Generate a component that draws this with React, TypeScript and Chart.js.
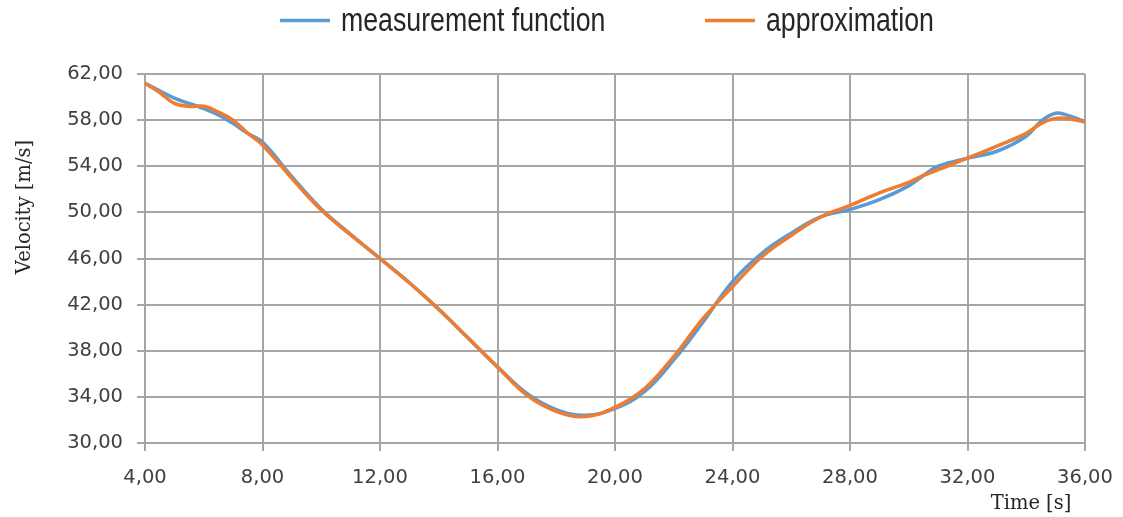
import React, { useEffect, useRef } from "react";
import { Chart, registerables } from "chart.js";

Chart.register(...registerables);

const timeValues: number[] = [4, 4.5, 5, 5.5, 6, 6.5, 7, 7.5, 8, 9, 10, 11, 12, 13, 14, 15, 16, 17, 18, 19, 20, 21, 22, 23, 24, 25, 26, 27, 28, 29, 30, 30.5, 31, 32, 33, 34, 34.5, 35, 35.5, 36];

const measurement: number[] = [61.2, 60.55, 59.9, 59.45, 59.0, 58.45, 57.7, 56.85, 56.1, 53.1, 50.3, 48.1, 46.0, 43.9, 41.6, 39.1, 36.6, 34.3, 32.9, 32.4, 33.0, 34.45, 37.2, 40.5, 44.0, 46.45, 48.2, 49.6, 50.25, 51.1, 52.3, 53.2, 54.0, 54.7, 55.3, 56.6, 57.9, 58.6, 58.35, 57.85];

const approximation: number[] = [61.2, 60.4, 59.45, 59.2, 59.2, 58.7, 58.0, 56.85, 55.85, 52.95, 50.2, 48.05, 46.0, 43.9, 41.6, 39.1, 36.6, 34.15, 32.75, 32.3, 33.1, 34.7, 37.5, 40.8, 43.55, 46.15, 48.0, 49.6, 50.6, 51.7, 52.6, 53.2, 53.7, 54.7, 55.75, 56.85, 57.7, 58.15, 58.1, 57.85];

const seriesNames: string[] = ["measurement function", "approximation"];
const seriesColors: string[] = ["#5B9BD5", "#ED7D31"];
const xTitle = "Time [s]";
const yTitle = "Velocity [m/s]";

const fmt = (v: number | string) => Number(v).toFixed(2).replace(".", ",");

const decorPlugin = {
  id: "decor",
  afterDraw(chart: any) {
    const ctx = chart.ctx as CanvasRenderingContext2D;
    const area = chart.chartArea;
    ctx.save();
    const legendItems = [
      { x: 280, text: seriesNames[0], color: seriesColors[0] },
      { x: 705, text: seriesNames[1], color: seriesColors[1] },
    ];
    legendItems.forEach((it) => {
      ctx.strokeStyle = it.color;
      ctx.lineWidth = 3.5;
      ctx.beginPath();
      ctx.moveTo(it.x, 20.5);
      ctx.lineTo(it.x + 50, 20.5);
      ctx.stroke();
      ctx.save();
      ctx.translate(it.x + 61, 31);
      ctx.scale(0.786, 1);
      ctx.fillStyle = "#262626";
      ctx.font = "34px 'Liberation Sans', Arial, sans-serif";
      ctx.textAlign = "left";
      ctx.textBaseline = "alphabetic";
      ctx.fillText(it.text, 0, 0);
      ctx.restore();
    });
    ctx.fillStyle = "#262626";
    ctx.font = "19.5px 'DejaVu Serif', serif";
    ctx.textAlign = "center";
    ctx.textBaseline = "middle";
    ctx.fillText(xTitle, area.right - 54, 504);
    ctx.save();
    ctx.translate(25, 207);
    ctx.rotate(-Math.PI / 2);
    ctx.fillText(yTitle, 0, 0);
    ctx.restore();
    ctx.restore();
  },
};

export default function App() {
  const canvasRef = useRef<HTMLCanvasElement | null>(null);

  useEffect(() => {
    if (!canvasRef.current) return;
    const gridColor = "#a6a6a6";
    const tickFont = { family: "'DejaVu Sans', Verdana, sans-serif", size: 19.5 };
    const lineStyle = {
      borderWidth: 3.5,
      pointRadius: 0,
      tension: 0.4,
      borderCapStyle: "round",
      borderJoinStyle: "round",
    };
    const chart = new Chart(canvasRef.current, {
      type: "line",
      data: {
        datasets: [
          {
            label: seriesNames[0],
            data: timeValues.map((t, i) => ({ x: t, y: measurement[i] })),
            borderColor: seriesColors[0],
            backgroundColor: seriesColors[0],
            ...lineStyle,
            order: 2,
          },
          {
            label: seriesNames[1],
            data: timeValues.map((t, i) => ({ x: t, y: approximation[i] })),
            borderColor: seriesColors[1],
            backgroundColor: seriesColors[1],
            ...lineStyle,
            order: 1,
          },
        ],
      },
      options: {
        animation: false,
        responsive: true,
        maintainAspectRatio: false,
        layout: { padding: { top: 74, right: 38, left: 0, bottom: 0 } },
        plugins: {
          legend: { display: false },
          tooltip: { enabled: false },
        },
        scales: {
          x: {
            type: "linear",
            min: 4,
            max: 36,
            afterFit: (s: any) => {
              s.height = 74;
              s.paddingLeft = 0;
              s.paddingRight = 0;
            },
            ticks: {
              stepSize: 4,
              callback: (v: any) => fmt(v),
              font: tickFont,
              color: "#404040",
              padding: 15,
              maxRotation: 0,
            },
            grid: { color: gridColor, lineWidth: 2, tickLength: 8, drawTicks: true },
            border: { color: gridColor, width: 2 },
          },
          y: {
            type: "linear",
            min: 30,
            max: 62,
            afterFit: (s: any) => {
              s.width = 145;
              s.paddingTop = 0;
              s.paddingBottom = 0;
            },
            ticks: {
              stepSize: 4,
              callback: (v: any) => fmt(v),
              font: tickFont,
              color: "#404040",
              padding: 14,
            },
            grid: { color: gridColor, lineWidth: 2, tickLength: 8, drawTicks: true },
            border: { color: gridColor, width: 2 },
          },
        },
      } as any,
      plugins: [decorPlugin],
    });
    return () => chart.destroy();
  }, []);

  return (
    <div style={{ position: "absolute", left: 0, top: 0, width: 1123, height: 517, background: "#fff" }}>
      <canvas ref={canvasRef} />
    </div>
  );
}
